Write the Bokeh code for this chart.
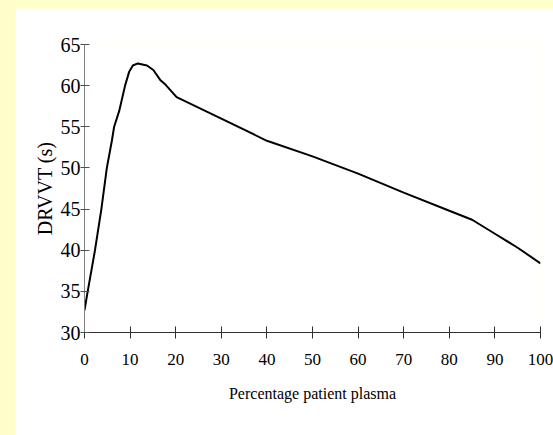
from jinja2 import Template
from bokeh.plotting import figure
from bokeh.models import Range1d
from bokeh.embed import file_html
from bokeh.resources import INLINE

# Data
pct_patient_plasma = [0, 0.7, 2.3, 3.7, 4.9, 6.0, 6.5, 7.6, 8.9, 9.8, 10.6, 11.7, 13.7, 15.1,
                      16.6, 17.8, 20.2, 30, 40, 50, 60, 70, 80, 85, 90, 95, 100]
drvvt_seconds = [32.7, 35.0, 40.0, 45.0, 50.0, 53.3, 55.0, 56.9, 60.0, 61.7, 62.45, 62.7, 62.45, 61.9,
                 60.7, 60.1, 58.6, 56.0, 53.3, 51.4, 49.3, 47.0, 44.8, 43.7, 42.0, 40.3, 38.4]
x_ticks = [0, 10, 20, 30, 40, 50, 60, 70, 80, 90, 100]
y_ticks = [30, 35, 40, 45, 50, 55, 60, 65]

FONT = "Liberation Serif"

p = figure(width=538, height=427, output_backend="svg", toolbar_location=None,
           x_range=Range1d(0, 100), y_range=Range1d(30, 65),
           min_border_left=69, min_border_right=13, min_border_top=36, min_border_bottom=103)
p.background_fill_color = "white"
p.border_fill_color = "white"
p.outline_line_color = None
p.xgrid.grid_line_color = None
p.ygrid.grid_line_color = None

p.line(pct_patient_plasma, drvvt_seconds, line_color="black", line_width=2)

p.xaxis.ticker = x_ticks
p.yaxis.ticker = y_ticks
for ax in (p.xaxis, p.yaxis):
    ax.minor_tick_line_color = None
    ax.major_label_text_font = FONT
    ax.major_label_text_color = "black"
    ax.axis_label_text_font = FONT
    ax.axis_label_text_font_style = "normal"
    ax.axis_label_text_color = "black"

p.xaxis.axis_line_color = "#303030"
p.xaxis.major_tick_line_color = "#303030"
p.xaxis.major_tick_in = 6
p.xaxis.major_tick_out = 6
p.xaxis.major_label_text_font_size = "17px"
p.xaxis.major_label_standoff = 15
p.xaxis.axis_label = "Percentage patient plasma"
p.xaxis.axis_label_text_font_size = "16px"
p.xaxis.axis_label_standoff = 17

p.yaxis.axis_line_color = "#808080"
p.yaxis.major_tick_line_color = "#505050"
p.yaxis.major_tick_in = 5
p.yaxis.major_tick_out = 4
p.yaxis.major_label_text_font_size = "20px"
p.yaxis.major_label_standoff = 0
p.yaxis.axis_label = "DRVVT (s)"
p.yaxis.axis_label_text_font_size = "20px"
p.yaxis.axis_label_standoff = 2

template = Template("""{% extends base %}
{% block postamble %}<style>
html, body { margin: 0; padding: 0; overflow: hidden; background-color: #FFFFCC; }
#chart-holder { position: absolute; left: 15px; top: 8px; }
</style>{% endblock %}
{% block contents %}<div id="chart-holder">{{ super() }}</div>{% endblock %}""")

open("out.html", "w").write(file_html(p, INLINE, template=template))
